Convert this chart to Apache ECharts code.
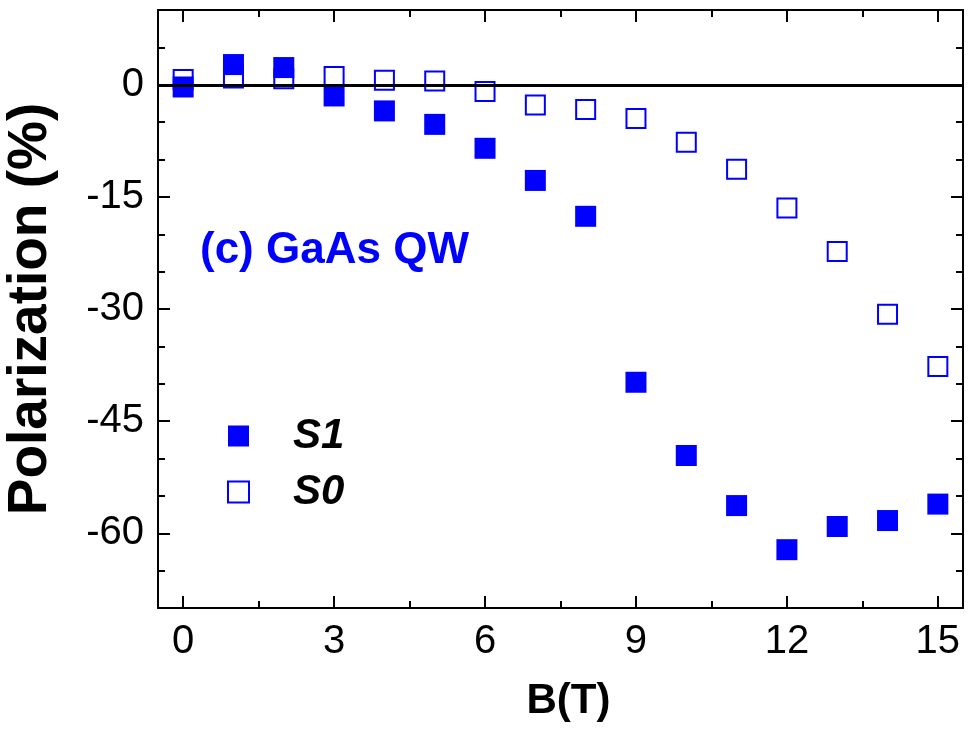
<!DOCTYPE html>
<html>
<head>
<meta charset="utf-8">
<script src="https://cdn.jsdelivr.net/npm/echarts@6/dist/echarts.min.js"></script>
<style>
  html, body { margin: 0; padding: 0; background: #fff; }
  #chart { width: 968px; height: 733px; }
</style>
</head>
<body>
<div id="chart"></div>
<script>
  // data
  const fieldB = [0, 1, 2, 3, 4, 5, 6, 7, 8, 9, 10, 11, 12, 13, 14, 15];
  const polS1 = [-0.3, 2.7, 2.3, -1.5, -3.5, -5.3, -8.5, -12.8, -17.6, -39.8, -49.6, -56.3, -62.2, -59.1, -58.3, -56.1];
  const polS0 = [0.7, 0.9, 0.8, 1.1, 0.6, 0.5, -0.9, -2.7, -3.3, -4.5, -7.7, -11.3, -16.5, -22.3, -30.7, -37.7];

  const xMajor = [0, 3, 6, 9, 12, 15];
  const xMinor = [1.5, 4.5, 7.5, 10.5, 13.5];
  const yMajor = [0, -15, -30, -45, -60];
  const yMinor = [5, -5, -10, -20, -25, -35, -40, -50, -55, -65];

  const FONT = "'Liberation Sans', Arial, sans-serif";
  const BLUE = '#0000ff';

  function mkAxis(pos, min, max, ticks, len, showLine, labels) {
    return {
      type: 'value',
      position: pos,
      min: min,
      max: max,
      splitLine: { show: false },
      axisLine: { show: showLine, onZero: false, lineStyle: { color: '#000', width: 2 } },
      axisTick: { show: true, inside: true, length: len, customValues: ticks, lineStyle: { color: '#000', width: 2 } },
      axisLabel: labels ? {
        show: true, customValues: ticks, color: '#000', fontSize: 40, fontFamily: FONT, margin: 14
      } : { show: false }
    };
  }

  const chart = echarts.init(document.getElementById('chart'));

  const xAxes = [
    mkAxis('bottom', -0.5, 15.5, xMajor, 12, true, true),
    mkAxis('bottom', -0.5, 15.5, xMinor, 7, false, false),
    mkAxis('top', -0.5, 15.5, xMajor, 12, true, false),
    mkAxis('top', -0.5, 15.5, xMinor, 7, false, false)
  ];
  xAxes[0].name = 'B(T)';
  xAxes[0].nameLocation = 'middle';
  xAxes[0].nameGap = 72;
  xAxes[0].nameTextStyle = { color: '#000', fontSize: 42, fontWeight: 'bold', fontFamily: FONT, padding: [0, 0, 0, 16] };

  const yAxes = [
    mkAxis('left', -70, 10, yMajor, 12, true, true),
    mkAxis('left', -70, 10, yMinor, 7, false, false),
    mkAxis('right', -70, 10, yMajor, 12, true, false),
    mkAxis('right', -70, 10, yMinor, 7, false, false)
  ];
  yAxes[0].name = 'Polarization (%)';
  yAxes[0].nameLocation = 'middle';
  yAxes[0].nameRotate = 90;
  yAxes[0].nameGap = 100;
  yAxes[0].nameTextStyle = { color: '#000', fontSize: 55, fontWeight: 'bold', fontFamily: FONT };

  chart.setOption({
    animation: false,
    backgroundColor: '#fff',
    grid: { left: 158, right: 5, top: 10, bottom: 125, outerBoundsMode: 'none', containLabel: false },
    title: {
      text: '(c) GaAs QW',
      left: 200,
      top: 229,
      padding: 0,
      textStyle: { color: BLUE, fontSize: 44, fontWeight: 'bold', fontFamily: FONT }
    },
    legend: {
      data: ['S1', 'S0'],
      orient: 'vertical',
      left: 227,
      top: 415,
      padding: 0,
      itemGap: 14,
      itemWidth: 21,
      itemHeight: 21,
      selectedMode: false,
      textStyle: {
        color: '#000', fontSize: 42, fontWeight: 'bold', fontStyle: 'italic',
        fontFamily: FONT, padding: [0, 0, 0, 39]
      }
    },
    xAxis: xAxes,
    yAxis: yAxes,
    series: [
      {
        // zero reference line
        type: 'line',
        data: [],
        z: 1,
        markLine: {
          silent: true,
          symbol: 'none',
          label: { show: false },
          lineStyle: { color: '#000', width: 3, type: 'solid' },
          data: [{ yAxis: 0 }]
        }
      },
      {
        name: 'S0',
        type: 'scatter',
        z: 3,
        symbol: 'rect',
        symbolSize: 19,
        itemStyle: { color: '#fff', borderColor: BLUE, borderWidth: 2, opacity: 1 },
        data: fieldB.map((b, i) => [b, polS0[i]])
      },
      {
        name: 'S1',
        type: 'scatter',
        z: 4,
        symbol: 'rect',
        symbolSize: 21,
        itemStyle: { color: BLUE, opacity: 1 },
        data: fieldB.map((b, i) => [b, polS1[i]])
      }
    ]
  });
</script>
</body>
</html>
